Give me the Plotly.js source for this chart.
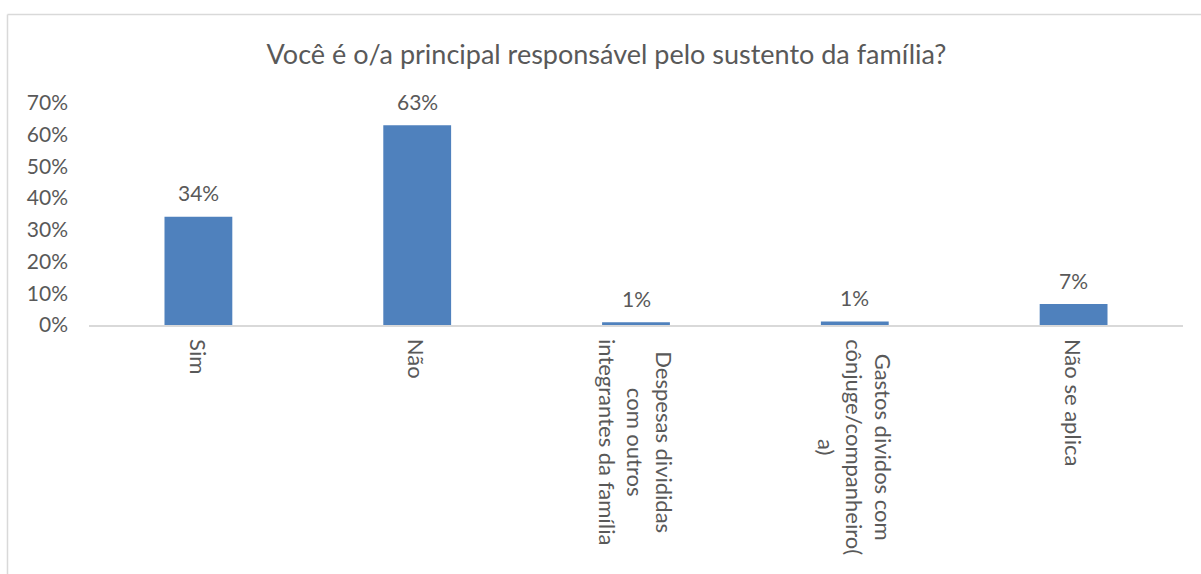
<!DOCTYPE html>
<html>
<head>
<meta charset="utf-8">
<script src="https://cdn.plot.ly/plotly-3.0.1.min.js"></script>
<style>html,body{margin:0;padding:0;background:#fff;}#chart{width:1201px;height:574px;}</style>
</head>
<body>
<div id="chart"></div>
<script>
const chartTitle = "Você é o/a principal responsável pelo sustento da família?";
const categories = ["Sim", "Não", "Despesas divididas com outros integrantes da família", "Gastos dividos com cônjuge/companheiro(a)", "Não se aplica"];
const categoryLabels = ["Sim", "Não", "Despesas divididas<br>com outros<br>integrantes da família", "Gastos dividos com<br>cônjuge/companheiro(<br>a)", "Não se aplica"];
const values = [0.341, 0.63, 0.009, 0.011, 0.066];
const valueLabels = ["34%", "63%", "1%", "1%", "7%"];
const yTickVals = [0, 0.1, 0.2, 0.3, 0.4, 0.5, 0.6, 0.7];
const yTickText = ["0%", "10%", "20%", "30%", "40%", "50%", "60%", "70%"];

const FONT = "Lato, 'Open Sans', sans-serif";
const TXT = "#595959";

const dataLabelAnns = categories.map((c, i) => ({
  x: c, y: values[i], xref: "x", yref: "y",
  text: valueLabels[i], showarrow: false,
  yanchor: "middle", xanchor: "center", yshift: 24,
  font: {family: FONT, size: 21, color: TXT}
}));
const catLabelAnns = categories.map((c, i) => ({
  x: c, y: 0, xref: "x", yref: "paper",
  text: categoryLabels[i], showarrow: false, textangle: 90,
  yanchor: "top", xanchor: "center", yshift: -12, align: "center",
  font: {family: FONT, size: 22, color: TXT}
}));

const trace = {
  type: "bar", x: categories, y: values,
  marker: {color: "#4F81BD", line: {width: 0}},
  hoverinfo: "none"
};

const layout = {
  width: 1201, height: 574,
  margin: {l: 89, r: 18, t: 103, b: 249},
  paper_bgcolor: "#ffffff", plot_bgcolor: "#ffffff",
  showlegend: false,
  bargap: 0.69,
  title: {text: chartTitle, x: 0.505, xref: "container", xanchor: "center", y: 0.905, yref: "container", yanchor: "middle",
          font: {family: FONT, size: 27, color: TXT}},
  xaxis: {
    type: "category", showticklabels: false, ticks: "",
    showline: true, linecolor: "#D9D9D9", linewidth: 1.5,
    showgrid: false, zeroline: false, fixedrange: true
  },
  yaxis: {
    range: [0, 0.7], tickvals: yTickVals, ticktext: yTickText,
    showgrid: false, zeroline: false, showline: false, ticks: "",
    tickfont: {family: FONT, size: 21, color: TXT}, ticklabelstandoff: 20,
    fixedrange: true
  },
  annotations: dataLabelAnns.concat(catLabelAnns),
  shapes: [
    {type: "line", xref: "paper", yref: "paper", x0: -0.0745, x1: 1.03, y0: 1.3986, y1: 1.3986,
     line: {color: "#D9D9D9", width: 1.5}},
    {type: "line", xref: "paper", yref: "paper", x0: -0.0745, x1: -0.0745, y0: 1.3986, y1: -1.2,
     line: {color: "#D9D9D9", width: 1.5}}
  ]
};

Plotly.newPlot("chart", [trace], layout, {displayModeBar: false, staticPlot: true});
</script>
</body>
</html>
